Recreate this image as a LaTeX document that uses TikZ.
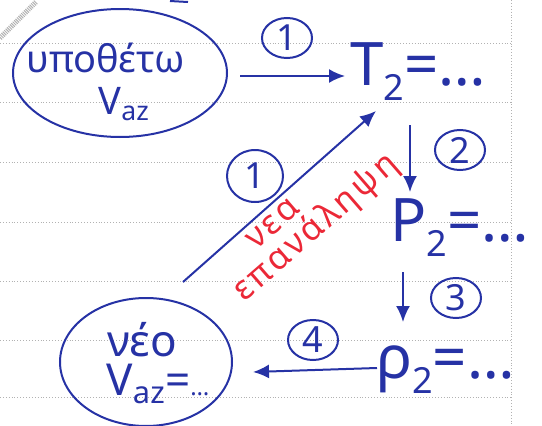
\documentclass[tikz,border=0pt]{standalone}
\usepackage{fontspec}
\setmainfont{Noto Sans}
\newfontfamily\redfont[LetterSpace=9]{Noto Sans}
\usetikzlibrary{arrows.meta,shapes.geometric}
\definecolor{pen}{RGB}{38,50,165}
\definecolor{redpen}{RGB}{235,40,55}
\newcommand\hsub[1]{\raisebox{-15pt}{\fontsize{36}{36}\selectfont #1}}
\begin{document}
\begin{tikzpicture}[x=1pt,y=-1pt,
  every node/.style={text=pen, inner sep=0pt},
  rule/.style={draw=gray!60, dotted, line width=0.9pt},
  flow/.style={draw=pen, line width=2pt, -{Latex[length=16pt,width=14pt]}},
  bubble/.style={draw=pen, line width=2pt, ellipse, align=center},
  num/.style={draw=pen, line width=2pt, ellipse, minimum width=50pt, minimum height=40pt, font=\fontsize{36}{38}\selectfont},
  big/.style={font=\fontsize{60}{62}\selectfont},
  btxt/.style={font=\fontsize{38}{40}\selectfont, align=center},
  redtxt/.style={text=redpen, font=\redfont\fontsize{34}{36}\selectfont, rotate=41}]
\useasboundingbox (0,0) rectangle (542,426);
% ruled paper
\foreach \yy in {43,102,162,222,281,340,397}
  \draw[rule] (0,\yy) -- (512,\yy);
\draw[rule] (511,0) -- (511,426);
\draw[draw=gray!60, line width=5pt, dash pattern=on 1pt off 1pt] (0,38) -- (36,2);
\draw[pen, line width=2pt] (170,1) -- (188,2);
% nodes
\node[bubble, minimum width=214pt, minimum height=128pt] (e1) at (120,73) {};
\node[btxt] (t1) at (106,58) {υποθέτω};
\node[btxt] (t2) at (124,104) {V\textsubscript{az}};
\node[big, anchor=west] (T) at (350,72) {T\hsub{2}=…};
\node[big, anchor=west] (P) at (390,228) {P\hsub{2}=…};
\node[big, anchor=west] (R) at (376,370) {ρ\hsub{2}=…};
\node[bubble, minimum width=172pt, minimum height=128pt] (e2) at (146,362) {};
\node[btxt, font=\fontsize{44}{46}\selectfont] (n1) at (142,340) {νέο};
\node[btxt, font=\fontsize{44}{46}\selectfont] (n2) at (158,384) {V\textsubscript{az}=\fontsize{24}{24}\selectfont…};
% numbered circles
\node[num] (c1) at (287,38) {1};
\node[num] (c2) at (460,150) {2};
\node[num] (c3) at (456,298) {3};
\node[num] (c4) at (313,340) {4};
\node[num, minimum width=56pt, minimum height=52pt] (c1b) at (255,176) {1};
% red label
\node[redtxt] (lab1) at (273,224) {νεα};
\node[redtxt] (lab2) at (316,228) {επανάληψη};
% connectors
\coordinate (a1s) at (240,76);
\coordinate (a1e) at (345,76);
\coordinate (a2s) at (410,125);
\coordinate (a2e) at (410,192);
\coordinate (a3s) at (403,272);
\coordinate (a3e) at (403,322);
\coordinate (a4s) at (377,368);
\coordinate (a4e) at (253,372);
\coordinate (d1s) at (183,282);
\coordinate (d1e) at (376,111);
\draw[flow] (a1s) -- (a1e);
\draw[flow] (a2s) -- (a2e);
\draw[flow] (a3s) -- (a3e);
\draw[flow] (a4s) -- (a4e);
\draw[flow] (d1s) -- (d1e);
\end{tikzpicture}
\end{document}
